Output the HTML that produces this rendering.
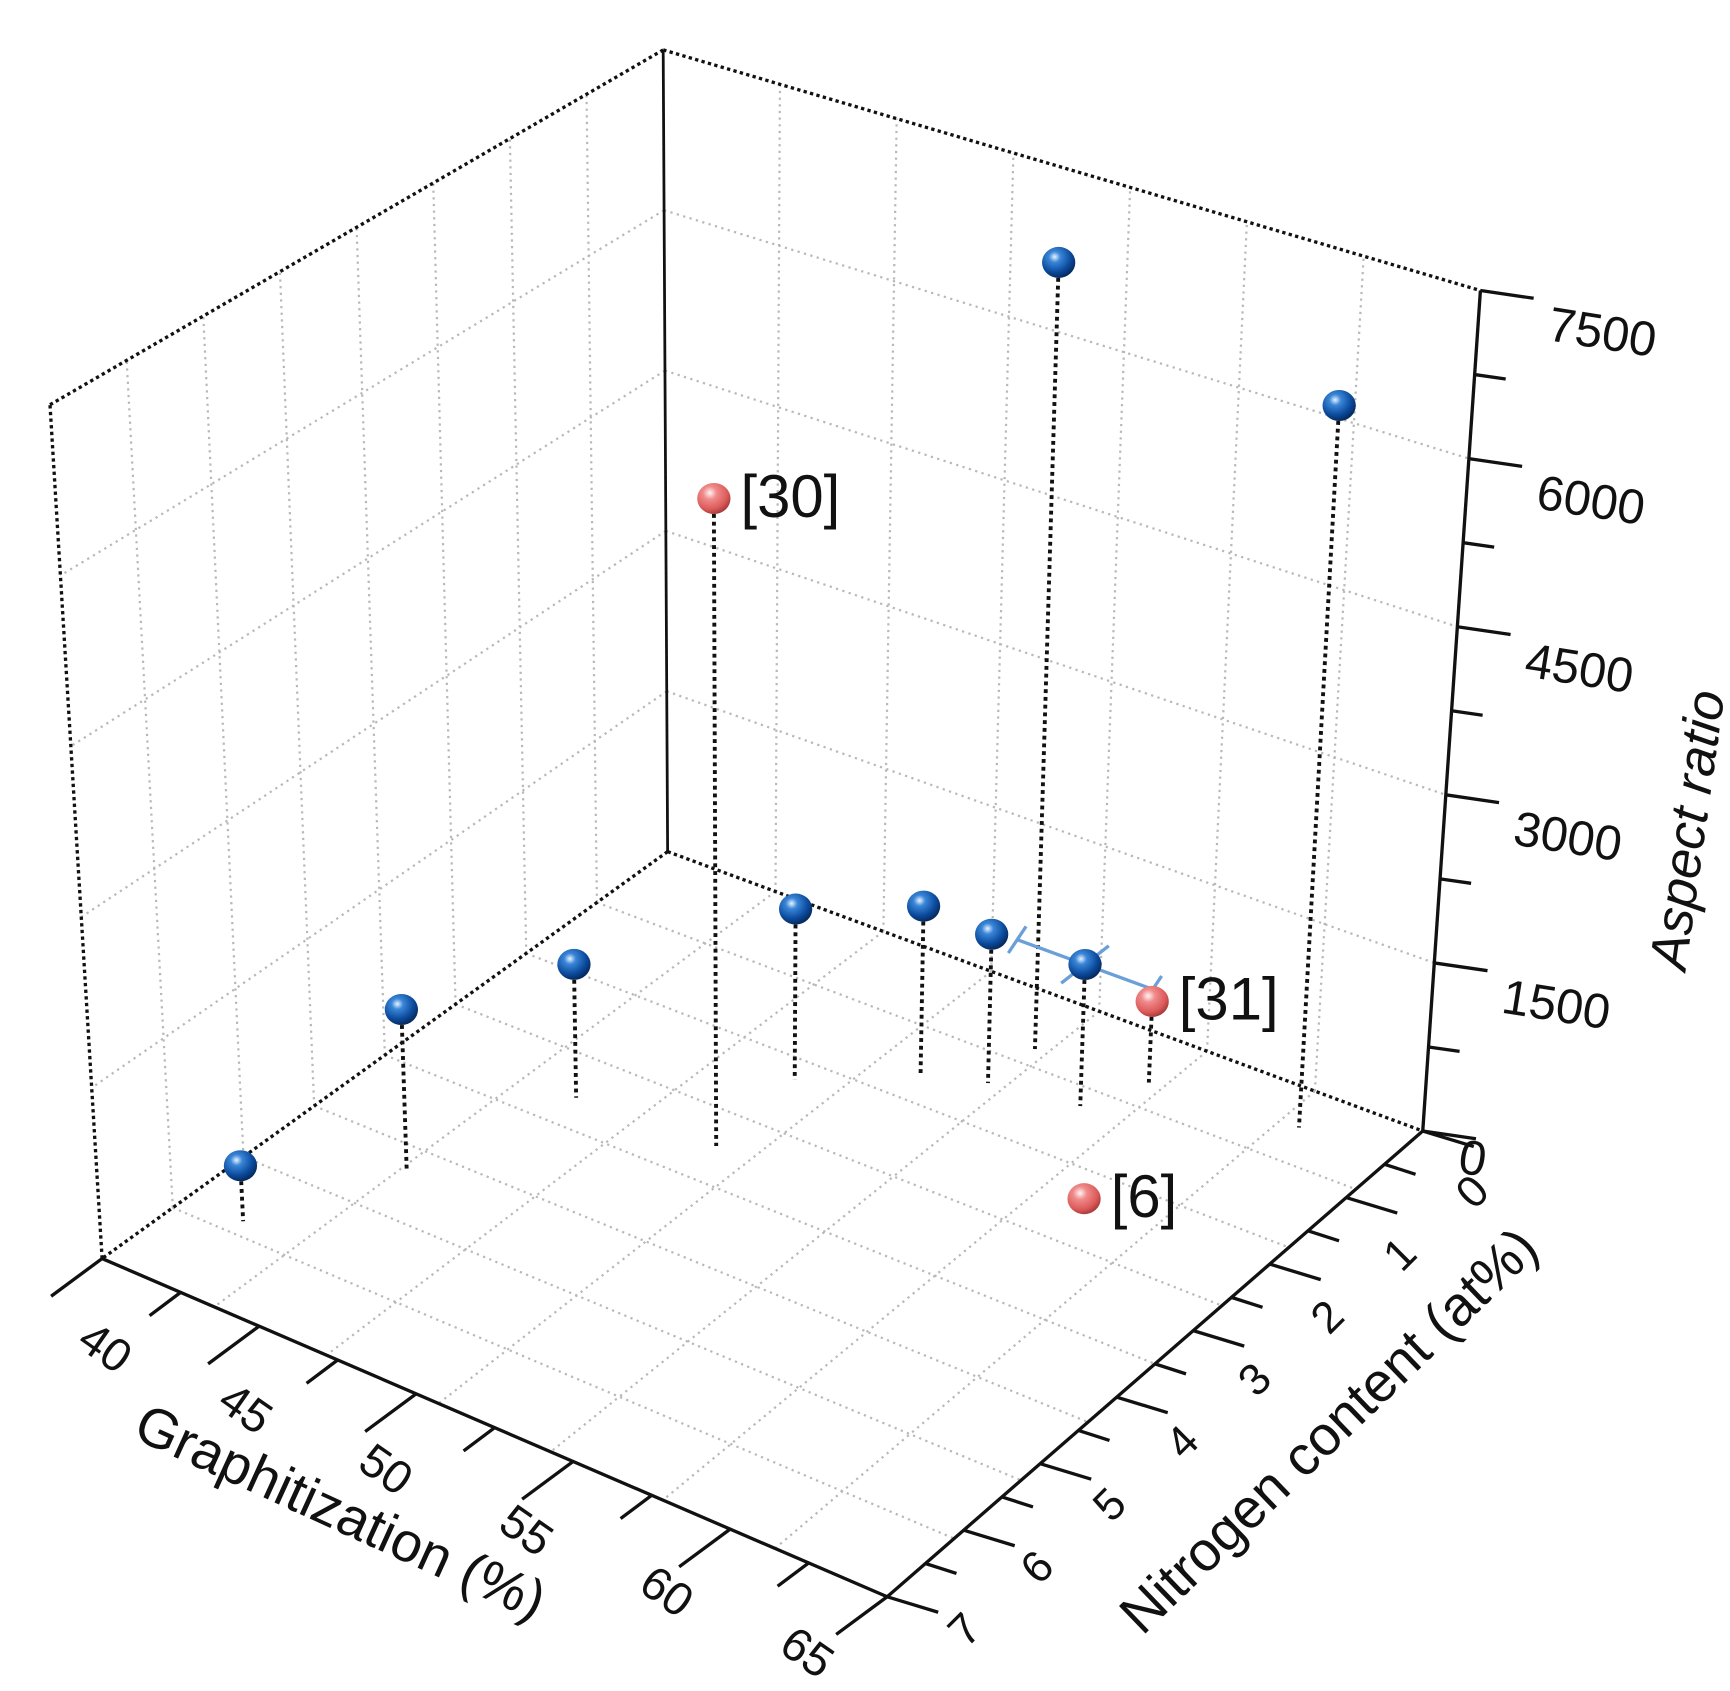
<!DOCTYPE html>
<html><head><meta charset="utf-8"><style>
html,body{margin:0;padding:0;background:#fff}
svg{display:block}
text{font-family:"Liberation Sans",Arial,sans-serif;fill:#111}
</style></head><body>
<svg id="chart" width="1730" height="1691" viewBox="0 0 1560 1525" xmlns="http://www.w3.org/2000/svg">
<defs>
<radialGradient id="gBlue" cx="0.38" cy="0.32" r="0.7">
<stop offset="0" stop-color="#e8f4ff"/><stop offset="0.25" stop-color="#3a86d8"/><stop offset="0.7" stop-color="#0b4a9c"/><stop offset="1" stop-color="#06285a"/>
</radialGradient>
<radialGradient id="gRed" cx="0.38" cy="0.32" r="0.7">
<stop offset="0" stop-color="#fff4f4"/><stop offset="0.3" stop-color="#f08a8a"/><stop offset="0.75" stop-color="#dc5a5a"/><stop offset="1" stop-color="#a83a3a"/>
</radialGradient>
</defs>
<g id="grid"></g>
<g id="frame"></g>
<g id="axes"></g>
<g id="marks"></g>
<text x="0" y="0" font-size="50" transform="translate(118,1296) rotate(24.5)">Graphitization (%)</text>
<text x="0" y="0" font-size="50" transform="translate(1030,1476) rotate(-44)">Nitrogen content (at%)</text>
<text x="0" y="0" font-size="48" font-style="italic" transform="translate(1520,876) rotate(-82)">Aspect ratio</text>
</svg>
<script>
// data
const graphitization = [41.8, 43.7, 45.25, 49.6, 49.45, 52.1, 53.8, 53.9, 56.5, 57.4, 62.05, 59.1];
const nitrogen       = [5.95, 4.65, 3.13, 3.05, 2.0, 1.43, 1.23, 0.67, 1.1, 0.57, 0.45, 2.07];
const aspectRatio    = [490, 1420, 1200, 5780, 1540, 1530, 1340, 7120, 1270, 730, 6450, 0];
const pointGroup     = ["this", "this", "this", "ref", "this", "this", "this", "this", "this", "ref", "this", "ref"];
const pointLabels    = ["", "", "", "[30]", "", "", "", "", "", "[31]", "", "[6]"];
const errG           = [0, 0, 0, 0, 0, 0, 0, 0, 2.2, 0, 0, 0];
const gTicks = [40, 45, 50, 55, 60, 65];
const nTicks = [0, 1, 2, 3, 4, 5, 6, 7];
const aTicks = [0, 1500, 3000, 4500, 6000, 7500];

const NS = "http://www.w3.org/2000/svg";
const G0 = 40, G1 = 65, N1 = 7, A1 = 7500;
const B0 = [602, 768], R0 = [1283, 1020], L0 = [92, 1135], F0 = [800, 1440];
const B1 = [598, 45], R1 = [1335, 262], L1 = [45, 365], F1 = [800, 630];
function bil(c00, c10, c01, c11, u, v) {
  return [(1-u)*(1-v)*c00[0] + u*(1-v)*c10[0] + (1-u)*v*c01[0] + u*v*c11[0],
          (1-u)*(1-v)*c00[1] + u*(1-v)*c10[1] + (1-u)*v*c01[1] + u*v*c11[1]];
}
function P(g, n, a) {
  const u = (g - G0) / (G1 - G0), v = n / N1, w = a / A1;
  const b = bil(B0, R0, L0, F0, u, v), t = bil(B1, R1, L1, F1, u, v);
  return [b[0] + (t[0] - b[0]) * w, b[1] + (t[1] - b[1]) * w];
}
function line(parent, p, q, stroke, width, dash, name) {
  const l = document.createElementNS(NS, "line");
  
  
  l.setAttribute("x1", p[0]); l.setAttribute("y1", p[1]);
  l.setAttribute("x2", q[0]); l.setAttribute("y2", q[1]);
  l.setAttribute("stroke", stroke); l.setAttribute("stroke-width", width);
  if (dash) l.setAttribute("stroke-dasharray", dash);
  parent.appendChild(l);
  return l;
}
function text(parent, s, x, y, size, rot, name, anchor) {
  const t = document.createElementNS(NS, "text");
  
  
  t.setAttribute("font-size", size);
  t.setAttribute("text-anchor", anchor || "middle");
  t.setAttribute("dominant-baseline", "central");
  t.setAttribute("transform", "translate(" + x + "," + y + ") rotate(" + rot + ")");
  t.textContent = s;
  parent.appendChild(t);
}
const grid = document.getElementById("grid"), frame = document.getElementById("frame");
const axes = document.getElementById("axes"), marks = document.getElementById("marks");
const GC = "#b8b8b8", GD = "2 4";
for (let k = 1; k < 8; k++) {
  const n = k * N1 / 8;
  line(grid, P(G0, n, 0), P(G0, n, A1), GC, 2, GD, "grid-wall-left-v");
  line(grid, P(G0, n, 0), P(G1, n, 0), GC, 2, GD, "grid-floor-n");
}
for (let k = 1; k < 7; k++) {
  const g = G0 + k * (G1 - G0) / 7;
  line(grid, P(g, 0, 0), P(g, 0, A1), GC, 2, GD, "grid-wall-right-v");
  line(grid, P(g, 0, 0), P(g, N1, 0), GC, 2, GD, "grid-floor-g");
}
for (let a = 1500; a < 7500; a += 1500) {
  line(grid, P(G0, 0, a), P(G0, N1, a), GC, 2, GD, "grid-wall-left-h");
  line(grid, P(G0, 0, a), P(G1, 0, a), GC, 2, GD, "grid-wall-right-h");
}
const FD = "3 3";
line(frame, P(G0, N1, 0), P(G0, N1, A1), "#111", 3, FD, "frame-left-edge");
line(frame, P(G0, N1, A1), P(G0, 0, A1), "#111", 3, FD, "frame-top-left-edge");
line(frame, P(G0, 0, A1), P(G1, 0, A1), "#111", 3, FD, "frame-top-right-edge");
line(frame, P(G0, 0, 0), P(G0, 0, A1), "#111", 2.5, null, "frame-back-edge");
line(frame, P(G0, 0, 0), P(G0, N1, 0), "#111", 3, FD, "frame-floor-left-edge");
line(frame, P(G0, 0, 0), P(G1, 0, 0), "#111", 3, FD, "frame-floor-right-edge");
// axes
line(axes, P(G0, N1, 0), P(G1, N1, 0), "#111", 3, null, "x-axis-line");
line(axes, P(G1, N1, 0), P(G1, 0, 0), "#111", 3, null, "y-axis-line");
line(axes, P(G1, 0, 0), P(G1, 0, A1), "#111", 3, null, "z-axis-line");
for (let g = 40; g <= 65; g += 2.5) {
  const major = (g % 5 === 0), p = P(g, N1, 0);
  line(axes, p, [p[0] - (major ? 46 : 28), p[1] + (major ? 34 : 21)], "#111", 3, null, "x-axis-tick");
}
gTicks.forEach(g => {
  const p = P(g, N1, 0), t = (g - G0) / (G1 - G0);
  text(axes, String(g), p[0] + 3 - 75 * t, p[1] + 80 - 30 * t, 42, 35, "x-tick-label");
});
for (let n = 0; n <= 7; n += 0.5) {
  const major = Number.isInteger(n), p = P(G1, n, 0);
  line(axes, p, [p[0] + (major ? 46 : 28), p[1] + (major ? 14 : 9)], "#111", 3, null, "y-axis-tick");
}
nTicks.forEach(n => {
  const p = P(G1, n, 0), t = n / N1;
  text(axes, String(n), p[0] + 45 + 25 * t, p[1] + 55 - 25 * t, 40, -45, "y-tick-label");
});
for (let a = 0; a <= 7500; a += 750) {
  const major = (a % 1500 === 0);
  const p = P(G1, 0, a);
  line(axes, p, [p[0] + (major ? 48 : 28), p[1] + (major ? 7 : 4)], "#111", 3, null, "z-axis-tick");
}
aTicks.forEach(a => { const p = P(G1, 0, a); text(axes, String(a), p[0] + (a === 0 ? 45 : 110), p[1] + (a === 0 ? 25 : 38), 44, 9, "z-tick-label"); });
// points
graphitization.forEach((g, i) => {
  const n = nitrogen[i], a = aspectRatio[i];
  const top = P(g, n, a), bot = P(g, n, 0);
  if (a > 0) line(marks, top, bot, "#111", 3.5, "3.5 3.5", "drop-line");
});
graphitization.forEach((g, i) => {
  const n = nitrogen[i], a = aspectRatio[i];
  const c = P(g, n, a);
  if (errG[i] > 0) {
    const p = P(g - errG[i], n, a), q = P(g + errG[i], n, a);
    line(marks, p, q, "#6a9fd8", 3, null, "error-bar");
    [p, q].forEach(e => line(marks, [e[0] + 8, e[1] - 12], [e[0] - 8, e[1] + 12], "#6a9fd8", 3, null, "error-bar-cap"));
    const r = P(g, n - 0.3, a), s = P(g, n + 0.3, a);
    line(marks, r, s, "#6a9fd8", 3, null, "error-bar-n");
  }
  const e = document.createElementNS(NS, "ellipse");
  
  
  e.setAttribute("cx", c[0]); e.setAttribute("cy", c[1]);
  e.setAttribute("rx", 15); e.setAttribute("ry", 14);
  e.setAttribute("fill", pointGroup[i] === "ref" ? "url(#gRed)" : "url(#gBlue)");
  marks.appendChild(e);
  if (pointLabels[i]) text(marks, pointLabels[i], c[0] + 24, c[1] - 2, 54, 0, "point-label", "start");
});
</script>
</body></html>
